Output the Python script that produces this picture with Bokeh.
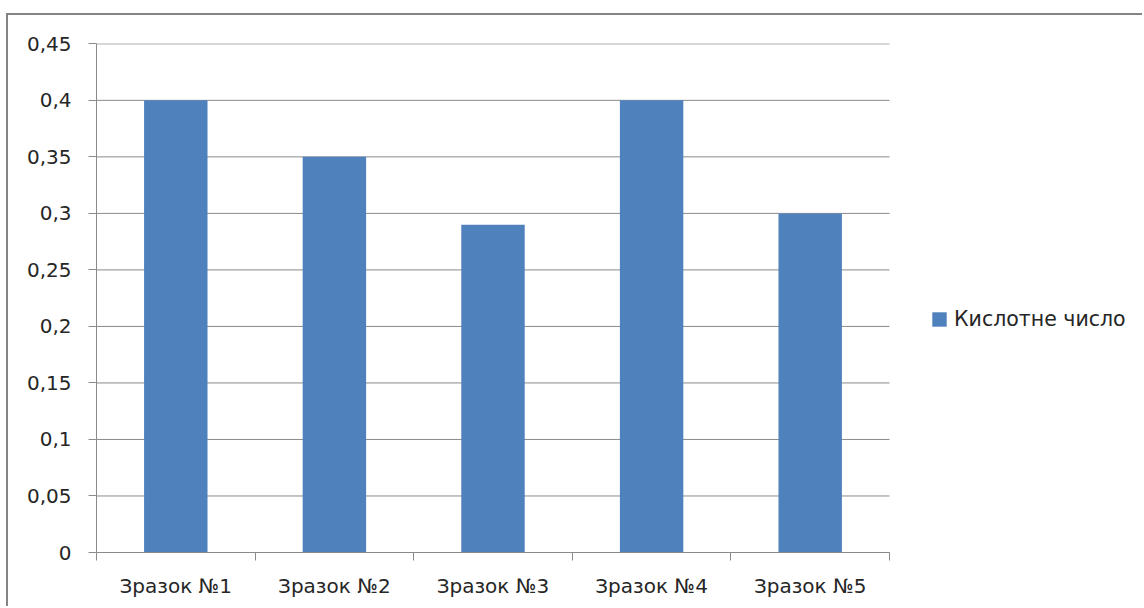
from bokeh.plotting import figure
from bokeh.models import (ColumnDataSource, FixedTicker, Legend, LegendItem, Range1d)
from bokeh.embed import file_html
from bokeh.resources import INLINE

# ---- data ----
categories = ["Зразок №1", "Зразок №2", "Зразок №3", "Зразок №4", "Зразок №5"]
values = [0.40, 0.35, 0.29, 0.40, 0.30]
series_name = "Кислотне число"
y_ticks = [0, 0.05, 0.1, 0.15, 0.2, 0.25, 0.3, 0.35, 0.4, 0.45]
y_tick_labels = ["0", "0,05", "0,1", "0,15", "0,2", "0,25", "0,3", "0,35", "0,4", "0,45"]

FONT = "DejaVu Sans"
TEXT = "#262626"
GRID = "#8a8a8a"
BAR = "#4F81BD"

n = len(categories)
xs = [i + 0.5 for i in range(n)]
src = ColumnDataSource(dict(x=xs, top=values, cat=categories))

OFF_X, OFF_Y = 8, 15  # outer border offset
PLOT_L, PLOT_R = 96, 889  # visible plot area (pixels)
x_end = n * (1144 - PLOT_L) / (PLOT_R - PLOT_L)  # frame extends under the legend

p = figure(width=1144 - OFF_X, height=608 - OFF_Y, output_backend="svg",
           toolbar_location=None,
           x_range=Range1d(0, x_end), y_range=Range1d(0, 0.4503),
           min_border_left=PLOT_L - OFF_X, min_border_right=0,
           min_border_top=43 - OFF_Y, min_border_bottom=56)
p.styles = {"border-left": "2px solid #848484", "border-top": "2px solid #848484",
            "margin-left": "6px", "margin-top": "13px"}
p.outline_line_color = None
p.background_fill_color = "white"
p.border_fill_color = "white"
p.xgrid.grid_line_color = None
p.ygrid.grid_line_color = None

# horizontal gridlines, limited to the category area
p.segment(x0=[0] * len(y_ticks), x1=[n] * len(y_ticks), y0=y_ticks, y1=y_ticks,
          line_color=GRID, line_width=1)

r = p.vbar(x="x", top="top", width=0.4, bottom=0, source=src,
           fill_color=BAR, line_color=None)

# x axis: labels at centers, ticks at boundaries
p.xaxis.bounds = (0, n)
p.xaxis.ticker = FixedTicker(ticks=xs, minor_ticks=list(range(n + 1)))
p.xaxis.major_label_overrides = {x: c for x, c in zip(xs, categories)}
p.xaxis.major_tick_out = 0
p.xaxis.major_tick_in = 0
p.xaxis.minor_tick_out = 8
p.xaxis.minor_tick_in = 0
p.xaxis.minor_tick_line_color = GRID
p.xaxis.axis_line_color = GRID
p.xaxis.major_label_standoff = 13
p.xaxis.major_label_text_font = FONT
p.xaxis.major_label_text_font_size = "20px"
p.xaxis.major_label_text_color = TEXT

# y axis
p.yaxis.ticker = FixedTicker(ticks=y_ticks, minor_ticks=[])
p.yaxis.major_label_overrides = {t: l for t, l in zip(y_ticks, y_tick_labels)}
p.yaxis.major_tick_out = 8
p.yaxis.major_tick_in = 0
p.yaxis.major_tick_line_color = GRID
p.yaxis.axis_line_color = GRID
p.yaxis.major_label_standoff = 17
p.yaxis.major_label_text_font = FONT
p.yaxis.major_label_text_font_size = "20px"
p.yaxis.major_label_text_color = TEXT

# legend
legend = Legend(items=[LegendItem(label=series_name, renderers=[r])],
                location=(834, 221), orientation="vertical",
                glyph_width=18, glyph_height=18, label_standoff=6,
                padding=0, margin=0, spacing=0,
                border_line_color=None, background_fill_alpha=0,
                label_text_font=FONT, label_text_font_size="20.5px",
                label_text_color=TEXT)
p.add_layout(legend, "center")

open("out.html", "w").write(file_html(p, INLINE))
